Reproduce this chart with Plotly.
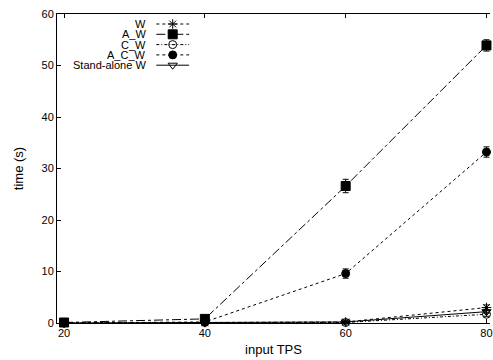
import plotly.graph_objects as go

x_tps = [20, 40, 60, 80]
names = ["W", "A_W", "C_W", "A_C_W", "Stand-alone W"]
w_vals = [0.0, 0.1, 0.2, 3.0]
a_w_vals = [0.1, 0.8, 26.6, 53.9]
c_w_vals = [0.0, 0.1, 0.1, 1.7]
a_c_w_vals = [0.0, 0.2, 9.6, 33.2]
sa_w_vals = [0.0, 0.1, 0.2, 2.2]
w_err = [0.1, 0.1, 0.2, 0.5]
a_w_err = [0.1, 0.3, 1.3, 1.1]
c_w_err = [0.1, 0.1, 0.2, 0.4]
a_c_w_err = [0.1, 0.1, 0.9, 1.0]
sa_w_err = [0.0, 0.0, 0.1, 0.3]
y_ticks = [0, 10, 20, 30, 40, 50, 60]

series = [w_vals, a_w_vals, c_w_vals, a_c_w_vals, sa_w_vals]
errs = [w_err, a_w_err, c_w_err, a_c_w_err, sa_w_err]
dashes = ["dot", "dashdot", "3px,2px,1px,2px", "dot", "solid"]
symbols = ["asterisk-open", "square", "circle-open-dot", "circle", "triangle-down-open"]
sizes = [8, 9, 8, 8, 8]

FONT = "Liberation Sans, Arial, sans-serif"
fig = go.Figure()
for nm, ys, er, ds, sy, sz in zip(names, series, errs, dashes, symbols, sizes):
    fig.add_trace(go.Scatter(
        x=x_tps, y=ys, mode="lines+markers", name=nm, showlegend=False,
        line=dict(color="black", width=1, dash=ds),
        marker=dict(symbol=sy, size=sz, color="black", line=dict(color="black", width=1)),
        error_y=dict(type="data", array=er, visible=True, color="black", thickness=1, width=3),
        cliponaxis=False,
    ))

# manual gnuplot-style legend (text right-aligned, sample at right)
leg_y = [24, 34.3, 44.6, 54.9, 65.2]
for i, (nm, ds, sy, sz) in enumerate(zip(names, dashes, symbols, sizes)):
    fig.add_trace(go.Scatter(
        x=[157, 190], y=[leg_y[i], leg_y[i]], mode="lines", xaxis="x2", yaxis="y2",
        line=dict(color="black", width=1, dash=ds), showlegend=False, hoverinfo="skip"))
    fig.add_trace(go.Scatter(
        x=[173.5], y=[leg_y[i]], mode="markers", xaxis="x2", yaxis="y2",
        marker=dict(symbol=sy, size=sz, color="black", line=dict(color="black", width=1)),
        showlegend=False, hoverinfo="skip"))
    fig.add_annotation(x=148, y=leg_y[i], xref="x2", yref="y2", text=nm, showarrow=False,
                       xanchor="right", yanchor="middle", borderpad=0,
                       font=dict(family=FONT, size=11, color="black"))

fig.update_layout(
    width=493, height=360,
    margin=dict(l=57, r=0, t=14, b=37),
    paper_bgcolor="white", plot_bgcolor="white",
    font=dict(family=FONT, size=11, color="black"),
    xaxis=dict(range=[19, 80.5], tickvals=x_tps, ticks="inside", ticklen=4, tickcolor="black",
               showline=True, linecolor="black", linewidth=1, mirror="ticks", showgrid=False,
               zeroline=False, title=dict(text="input TPS", standoff=6),
               ticklabeloverflow="allow",
               tickfont=dict(family=FONT, size=11)),
    yaxis=dict(range=[0, 60], tickvals=y_ticks, ticks="inside", ticklen=4, tickcolor="black",
               showline=True, linecolor="black", linewidth=1, mirror=False, showgrid=False,
               zeroline=False, title=dict(text="time (s)", standoff=14),
               tickfont=dict(family=FONT, size=11)),
    xaxis2=dict(overlaying="x", range=[57, 493], visible=False, fixedrange=True),
    yaxis2=dict(overlaying="y", range=[323, 14], visible=False, fixedrange=True),
)

fig.write_html("out.html")
